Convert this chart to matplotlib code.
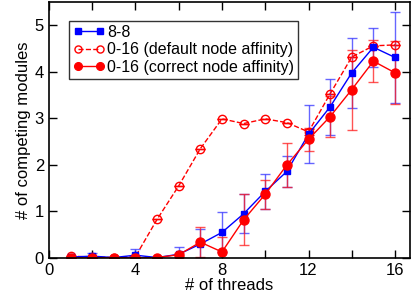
import matplotlib.pyplot as plt
from matplotlib.ticker import MultipleLocator

plt.rcParams['font.family'] = ['Liberation Sans', 'DejaVu Sans']

# threads 1..16
threads = list(range(1, 17))

# 8-8
m88 = [0.02, 0.04, 0.01, 0.06, 0.01, 0.08, 0.30, 0.55, 0.95, 1.43, 1.86, 2.66, 3.25, 3.98, 4.53, 4.31]
e88 = [0.0, 0.07, 0.0, 0.13, 0.0, 0.16, 0.33, 0.43, 0.42, 0.37, 0.33, 0.62, 0.60, 0.75, 0.42, 0.97]

# 0-16 default node affinity
mdef = [0.04, 0.02, 0.01, 0.03, 0.83, 1.55, 2.35, 2.99, 2.89, 2.99, 2.91, 2.71, 3.53, 4.32, 4.56, 4.58]
edef = [0.0, 0.0, 0.0, 0.0, 0.0, 0.0, 0.0, 0.0, 0.0, 0.0, 0.0, 0.07, 0.0, 0.0, 0.0, 0.0]

# 0-16 correct node affinity
mcor = [0.0, 0.0, 0.01, 0.0, 0.01, 0.07, 0.34, 0.13, 0.82, 1.37, 2.00, 2.55, 3.04, 3.62, 4.23, 3.98]
ecor = [0.0, 0.0, 0.0, 0.0, 0.0, 0.04, 0.32, 0.33, 0.55, 0.31, 0.47, 0.25, 0.45, 0.86, 0.45, 0.68]

fig = plt.figure(figsize=(4.11, 3.0), dpi=100)
ax = fig.add_axes([0.119, 0.14, 0.879, 0.853])

# error bars
ax.errorbar(threads, mdef, yerr=edef, fmt='none', ecolor='red', capsize=3.5, elinewidth=1)
ax.errorbar(threads, m88, yerr=e88, fmt='none', ecolor=(0.2, 0.2, 1.0, 0.75),
            capsize=3.5, elinewidth=1)
ax.errorbar(threads, mcor, yerr=ecor, fmt='none', ecolor=(1.0, 0.1, 0.1, 0.75),
            capsize=3.5, elinewidth=1)

# lines + markers
l_def, = ax.plot(threads, mdef, color='red', ls='--', lw=1, marker='o',
                 ms=6, mfc='none', mew=1, label='0-16 (default node affinity)')
l_88, = ax.plot(threads, m88, color='blue', ls='-', lw=1, marker='s',
                ms=5, label='8-8')
l_cor, = ax.plot(threads, mcor, color='red', ls='-', lw=1, marker='o',
                 ms=6.5, label='0-16 (correct node affinity)')

ax.set_xlim(0, 16.7)
ax.set_ylim(0, 5.5)
ax.xaxis.set_major_locator(MultipleLocator(4))
ax.xaxis.set_minor_locator(MultipleLocator(2))
ax.yaxis.set_major_locator(MultipleLocator(1))
ax.tick_params(direction='in', top=True, right=True, which='both', labelsize=12)
ax.tick_params(which='major', length=6, width=1)
ax.tick_params(which='minor', length=3.5, width=1)
ax.tick_params(axis='x', which='minor', top=True, length=6)
for s in ax.spines.values():
    s.set_linewidth(1.2)

ax.set_xlabel('# of threads', fontsize=12, labelpad=0)
ax.set_ylabel('# of competing modules', fontsize=12, labelpad=3)

leg = ax.legend([l_88, l_def, l_cor], [l_88.get_label(), l_def.get_label(), l_cor.get_label()],
                loc='upper left', bbox_to_anchor=(0.055, 0.926), fontsize=11.5,
                frameon=True, fancybox=False, edgecolor='black', handlelength=2.0,
                handletextpad=0.15, borderpad=0.25, labelspacing=0.15,
                borderaxespad=0, numpoints=2, markerscale=0.85)
leg.get_frame().set_linewidth(1)

fig.savefig('out.png', dpi=100)
